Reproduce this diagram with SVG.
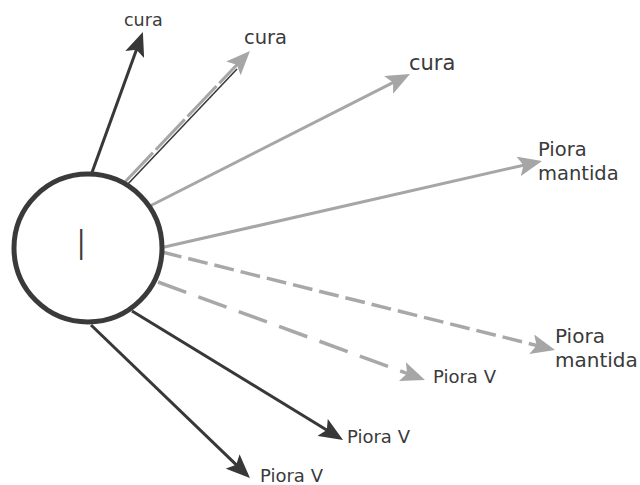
<svg xmlns="http://www.w3.org/2000/svg" width="640" height="485" viewBox="0 0 640 485">
  <style>
    .lbl { font-family: "DejaVu Sans", "Liberation Sans", sans-serif; fill: #3a3a3a; }
    .dark { stroke: #383838; stroke-width: 3; fill: none; }
    .light { stroke: #a6a6a6; stroke-width: 3; fill: none; }
    .dash-short { stroke: #a8a8a8; stroke-width: 3.5; fill: none; stroke-dasharray: 20 7; }
    .dash-long { stroke: #a8a8a8; stroke-width: 3.5; fill: none; stroke-dasharray: 30 13; }
  </style>
  <defs>
    <marker id="headDark" viewBox="0 0 24 20" markerWidth="24" markerHeight="20" refX="12" refY="10" orient="auto" markerUnits="userSpaceOnUse">
      <path d="M0,0 L24,10 L0,20 L5,10 Z" fill="#383838"/>
    </marker>
    <marker id="headLight" viewBox="0 0 24 20" markerWidth="24" markerHeight="20" refX="12" refY="10" orient="auto" markerUnits="userSpaceOnUse">
      <path d="M0,0 L24,10 L0,20 L5,10 Z" fill="#a6a6a6"/>
    </marker>
  </defs>

  <!-- connectors -->
  <g id="connectors">
    <line class="dark" x1="90" y1="178" x2="138.8" y2="43.2" marker-end="url(#headDark)"/>
    <g id="cura-mixed">
      <line class="light" x1="124" y1="183" x2="241.7" y2="59.7" stroke-width="4" stroke-dasharray="42 4" marker-end="url(#headLight)"/>
      <line stroke="#3a3a3a" stroke-width="1.6" x1="126" y1="186" x2="237" y2="69"/>
    </g>
    <line class="light" x1="148" y1="207" x2="399.3" y2="79.4" marker-end="url(#headLight)"/>
    <line class="light" x1="160" y1="248" x2="530.3" y2="163.7" marker-end="url(#headLight)"/>
    <line class="dash-short" x1="162" y1="252" x2="543.4" y2="347.1" marker-end="url(#headLight)"/>
    <line class="dash-long" x1="158" y1="282" x2="413.7" y2="375.8" marker-end="url(#headLight)"/>
    <line class="dark" x1="132" y1="311" x2="332.8" y2="433.7" marker-end="url(#headDark)"/>
    <line class="dark" x1="91" y1="325" x2="241.3" y2="469.7" marker-end="url(#headDark)"/>
  </g>

  <!-- central node -->
  <g id="node-I">
    <circle cx="88" cy="248" r="74" fill="#ffffff" stroke="#3a3a3a" stroke-width="5"/>
    <text class="lbl" transform="translate(78,260) scale(0.5,1)" font-size="43" fill="#444">I</text>
  </g>

  <!-- outcome labels -->
  <g id="label-cura-1"><text class="lbl" x="124" y="26" font-size="17.5">cura</text></g>
  <g id="label-cura-2"><text class="lbl" x="244" y="44" font-size="19.5">cura</text></g>
  <g id="label-cura-3"><text class="lbl" x="409" y="70" font-size="21">cura</text></g>
  <g id="label-mantida-1">
    <text class="lbl" x="538" y="156" font-size="19.5">Piora</text>
    <text class="lbl" x="538" y="180" font-size="19.5">mantida</text>
  </g>
  <g id="label-mantida-2">
    <text class="lbl" x="555" y="343" font-size="20">Piora</text>
    <text class="lbl" x="555" y="367" font-size="20">mantida</text>
  </g>
  <g id="label-v-1"><text class="lbl" x="433" y="383" font-size="18">Piora V</text></g>
  <g id="label-v-2"><text class="lbl" x="347" y="443" font-size="18">Piora V</text></g>
  <g id="label-v-3"><text class="lbl" x="260" y="482" font-size="18">Piora V</text></g>
</svg>
